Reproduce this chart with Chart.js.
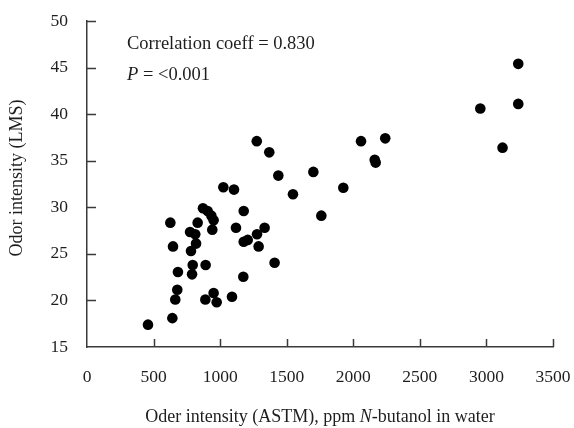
<!DOCTYPE html>
<html>
<head>
<meta charset="utf-8">
<script src="https://cdn.jsdelivr.net/npm/chart.js@4.4.1/dist/chart.umd.min.js"></script>
<style>
  html, body { margin: 0; padding: 0; background: #fff; }
  canvas { display: block; }
</style>
</head>
<body>
<canvas id="chart" width="574" height="428"></canvas>
<script>
// ASTM odor intensity (ppm N-butanol) vs LMS odor intensity
const astm = [
  458, 641, 663, 678, 683, 626, 646, 781, 774, 813,
  819, 794, 789, 831, 871, 906, 934, 951, 941, 891,
  889, 951, 974, 1024, 1089, 1104, 1119, 1177, 1177, 1174,
  1207, 1277, 1289, 1334, 1275, 1369, 1409, 1437, 1547, 1700,
  1760, 1925, 2058, 2161, 2168, 2240, 2954, 3121, 3239, 3239,
];
const lms = [
  17.4, 18.1, 20.1, 21.15, 23.05, 28.35, 25.8, 25.3, 27.35, 27.1,
  26.1, 23.8, 22.8, 28.35, 29.9, 29.6, 29.1, 28.6, 27.6, 23.8,
  20.1, 20.8, 19.8, 32.15, 20.4, 31.9, 27.8, 29.6, 26.3, 22.55,
  26.5, 27.1, 25.8, 27.8, 37.1, 35.9, 24.05, 33.4, 31.4, 33.8,
  29.1, 32.1, 37.1, 35.1, 34.8, 37.4, 40.6, 36.4, 45.4, 41.1,
];

const SERIF = "'Liberation Serif', 'Times New Roman', serif";
const TEXT = "#1e1e1e";
const AXIS = "#3a3a3a";

// inward tick marks, axis titles and the correlation note
const extras = {
  id: "extras",
  afterDraw(chart) {
    const { ctx, chartArea: a, scales: { x, y } } = chart;
    ctx.save();
    ctx.strokeStyle = AXIS;
    ctx.lineWidth = 1.5;
    ctx.beginPath();
    x.ticks.forEach((t) => {
      if (t.value === 0) return;
      const px = Math.round(x.getPixelForValue(t.value)) + 0.5;
      ctx.moveTo(px, a.bottom);
      ctx.lineTo(px, a.bottom - 8);
    });
    y.ticks.forEach((t) => {
      if (t.value === 15) return;
      const py = Math.round(y.getPixelForValue(t.value)) + 0.5;
      ctx.moveTo(a.left, py);
      ctx.lineTo(a.left + 9, py);
    });
    ctx.stroke();

    ctx.fillStyle = TEXT;
    ctx.textBaseline = "alphabetic";
    ctx.textAlign = "left";

    // correlation note
    ctx.font = `18.5px ${SERIF}`;
    ctx.fillText("Correlation coeff = 0.830", 127, 49);
    ctx.font = `italic 18.5px ${SERIF}`;
    ctx.fillText("P", 127, 80);
    const pw = ctx.measureText("P").width;
    ctx.font = `18.5px ${SERIF}`;
    ctx.fillText(" = <0.001", 127 + pw, 80);

    // x title with italic N
    const parts = [
      ["Oder intensity (ASTM), ppm ", ""],
      ["N", "italic "],
      ["-butanol in water", ""],
    ];
    let total = 0;
    parts.forEach(([s, st]) => {
      ctx.font = `${st}18px ${SERIF}`;
      total += ctx.measureText(s).width;
    });
    let cx = (a.left + a.right) / 2 - total / 2;
    parts.forEach(([s, st]) => {
      ctx.font = `${st}18px ${SERIF}`;
      ctx.fillText(s, cx, 422);
      cx += ctx.measureText(s).width;
    });

    // y title
    ctx.translate(17, 178);
    ctx.rotate(-Math.PI / 2);
    ctx.font = `18px ${SERIF}`;
    ctx.textAlign = "center";
    ctx.textBaseline = "middle";
    ctx.fillText("Odor intensity (LMS)", 0, 0);
    ctx.restore();
  },
};

new Chart(document.getElementById("chart"), {
  type: "scatter",
  data: {
    datasets: [
      {
        data: astm.map((v, i) => ({ x: v, y: lms[i] })),
        backgroundColor: "#000",
        borderWidth: 0,
        pointRadius: 5.3,
      },
    ],
  },
  options: {
    responsive: false,
    animation: false,
    devicePixelRatio: 1,
    layout: { padding: { top: 21, right: 21, left: 0, bottom: 0 } },
    plugins: { legend: { display: false }, tooltip: { enabled: false } },
    scales: {
      x: {
        type: "linear",
        min: 0,
        max: 3500,
        afterFit: (s) => {
          s.height = 81;
          s.paddingLeft = 0;
          s.paddingRight = 0;
        },
        ticks: {
          stepSize: 500,
          padding: 20,
          color: TEXT,
          font: { family: SERIF, size: 17.5 },
          callback: (v) => String(v),
        },
        grid: { display: false, drawTicks: false },
        border: { display: true, color: AXIS, width: 1.5 },
      },
      y: {
        min: 15,
        max: 50,
        afterFit: (s) => {
          s.width = 87;
          s.paddingTop = 0;
          s.paddingBottom = 0;
        },
        ticks: {
          stepSize: 5,
          padding: 19,
          color: TEXT,
          font: { family: SERIF, size: 17.5 },
          callback: (v) => String(v),
        },
        grid: { display: false, drawTicks: false },
        border: { display: true, color: AXIS, width: 1.5 },
      },
    },
  },
  plugins: [extras],
});
</script>
</body>
</html>
